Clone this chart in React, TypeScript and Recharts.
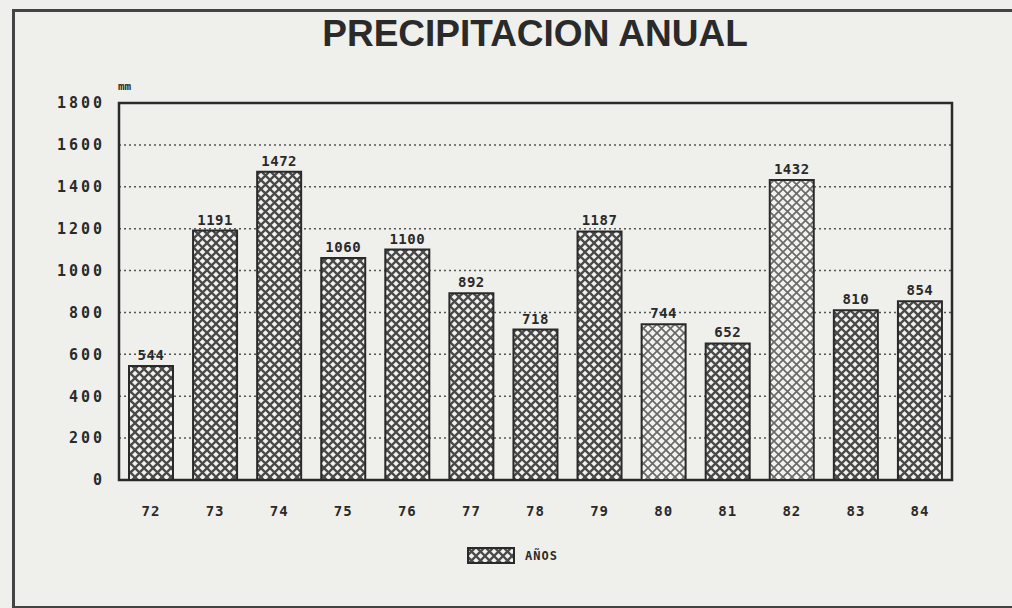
import { BarChart, Bar, XAxis, YAxis, CartesianGrid, Legend, LabelList, ReferenceArea, Cell } from "recharts";

const YEARS = ["72", "73", "74", "75", "76", "77", "78", "79", "80", "81", "82", "83", "84"];
const RAINFALL = [544, 1191, 1472, 1060, 1100, 892, 718, 1187, 744, 652, 1432, 810, 854];
const Y_TICKS = [0, 200, 400, 600, 800, 1000, 1200, 1400, 1600, 1800];
const LIGHT_YEARS = ["80", "82"];

const data = YEARS.map((year, i) => ({ year, mm: RAINFALL[i] }));

const INK = "#2a2a2a";
const PAPER = "#efefeb";
const MONO = "'DejaVu Sans Mono', monospace";

function LegendBox() {
  return (
    <div style={{ height: 68, position: "relative" }}>
      <div style={{ position: "absolute", left: 467, top: 7, display: "flex", alignItems: "center", gap: 10 }}>
        <svg width={48} height={17}>
          <rect x={1} y={1} width={46} height={15} fill="url(#hatch)" stroke={INK} strokeWidth={2} />
        </svg>
        <span style={{ fontFamily: MONO, fontWeight: 700, fontSize: 12, color: INK, letterSpacing: 1 }}>AÑOS</span>
      </div>
    </div>
  );
}

export default function App() {
  return (
    <div style={{ position: "absolute", left: 0, top: 0, width: 1012, height: 608, background: PAPER, overflow: "hidden" }}>
      <div style={{ position: "absolute", left: 12, top: 9, width: 1010, height: 594, borderLeft: "3px solid #444", borderTop: "3px solid #444", borderBottom: "3px solid #444" }} />
      <div style={{ position: "absolute", left: 0, width: 1070, top: 15, textAlign: "center", fontFamily: "'Liberation Sans', Arial, sans-serif", fontWeight: 700, fontSize: 37, lineHeight: "37px", color: INK }}>
        PRECIPITACION ANUAL
      </div>
      <BarChart width={1012} height={608} data={data} margin={{ top: 103, right: 60, bottom: 0, left: 0 }} barSize={44}>
        <defs>
          <pattern id="hatch" width={9} height={9} patternUnits="userSpaceOnUse">
            <rect width={9} height={9} fill="#f2f2f0" />
            <path d="M-2,-2 L11,11 M11,-2 L-2,11" stroke="#4a4a4a" strokeWidth={2.3} />
          </pattern>
          <pattern id="hatchLight" width={9} height={9} patternUnits="userSpaceOnUse">
            <rect width={9} height={9} fill="#f2f2f0" />
            <path d="M-2,-2 L11,11 M11,-2 L-2,11" stroke="#6a6a6a" strokeWidth={1.7} />
          </pattern>
        </defs>
        <CartesianGrid vertical={false} stroke="#555" strokeWidth={1.5} strokeDasharray="2 3" />
        <XAxis
          dataKey="year"
          height={60}
          axisLine={false}
          tickLine={false}
          tickMargin={20}
          tick={{ fill: INK, fontFamily: MONO, fontWeight: 700, fontSize: 14, letterSpacing: 1 }}
        />
        <YAxis
          domain={[0, 1800]}
          ticks={Y_TICKS}
          width={119}
          axisLine={false}
          tickLine={false}
          tickMargin={8}
          tick={{ fill: INK, fontFamily: MONO, fontWeight: 700, fontSize: 15, letterSpacing: 3 }}
        />
        <ReferenceArea
          y1={0}
          y2={1800}
          fill="none"
          stroke={INK}
          strokeWidth={2.5}
          label={{ value: "mm", position: "insideTopLeft", offset: 0, dx: -1, dy: -21, fill: INK, fontFamily: MONO, fontWeight: 700, fontSize: 11 }}
        />
        <Bar dataKey="mm" fill="url(#hatch)" stroke={INK} strokeWidth={2} isAnimationActive={false}>
          {data.map((d) => (
            <Cell key={d.year} fill={LIGHT_YEARS.includes(d.year) ? "url(#hatchLight)" : "url(#hatch)"} />
          ))}
          <LabelList dataKey="mm" position="top" offset={6} style={{ fill: INK, fontFamily: MONO, fontWeight: 700, fontSize: 14, letterSpacing: 0.5 }} />
        </Bar>
        <Legend verticalAlign="bottom" align="left" height={68} wrapperStyle={{ left: 0, width: 1012, height: 68 }} content={() => <LegendBox />} />
      </BarChart>
    </div>
  );
}
